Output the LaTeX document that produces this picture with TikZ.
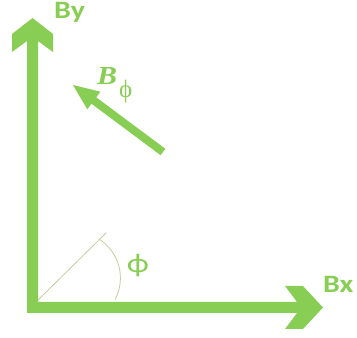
\documentclass[tikz,border=0pt]{standalone}
\usepackage{fontspec}
\setmainfont{Carlito}
\newfontfamily\serifgr{Liberation Serif}
\usetikzlibrary{calc}
\definecolor{lgreen}{RGB}{136,206,84}
\definecolor{thinline}{RGB}{196,204,158}
\newcommand{\wide}[1]{\scalebox{1.2}[1]{#1}}
\begin{document}
\begin{tikzpicture}[x=1pt,y=1pt,
  lab/.style={text=lgreen, inner sep=0pt, font=\fontsize{25}{25}\selectfont\bfseries},
  thick arrow/.style={fill=lgreen, draw=none}]
\useasboundingbox (0,0) rectangle (357,338);
% axes (L shape with chevron heads)
\fill[thick arrow] (27,25) -- (27,297) -- (12,286) -- (12,304) -- (32.5,320) -- (53,304) -- (53,286) -- (38,297)
  -- (38,36) -- (297,36) -- (285,52) -- (303,52) -- (323,30.5) -- (303,9) -- (285,9) -- (297,25) -- cycle;
% B_phi arrow
\coordinate (tip) at (73,253);
\coordinate (tail) at (163,186);
\coordinate (base) at ($(tip)!26pt!(tail)$);
\fill[thick arrow] (tip) -- ($(base)!11pt!90:(tip)$) -- ($(base)!4pt!90:(tip)$) -- ($(tail)!4pt!90:(tip)$)
  -- ($(tail)!4pt!-90:(tip)$) -- ($(base)!4pt!-90:(tip)$) -- ($(base)!11pt!-90:(tip)$) -- cycle;
% angle
\coordinate (o) at (38,38);
\coordinate (r) at (106,105);
\draw[thinline, line width=0.8pt] (o) -- (r);
\draw[thinline, line width=0.8pt] (98.8,99) arc[start angle=58, end angle=-28, radius=46];
% labels
\node[lab, anchor=base west] (by) at (54,319) {\wide{By}};
\node[lab, anchor=base west] (bx) at (323,45) {\wide{Bx}};
\node[lab, anchor=base west] (bphi) at (97,253) {\serifgr\fontsize{26}{26}\selectfont\bfseries\itshape\scalebox{1.15}[1]{B}};
\node[text=lgreen, inner sep=0pt, anchor=base west, font=\serifgr\fontsize{25}{25}\selectfont] (bphisub) at (119,240) {ϕ};
\node[text=lgreen, inner sep=0pt, font=\fontsize{27}{27}\selectfont] (phi) at (138,72) {\scalebox{1.25}[1]{ϕ}};
\end{tikzpicture}
\end{document}
